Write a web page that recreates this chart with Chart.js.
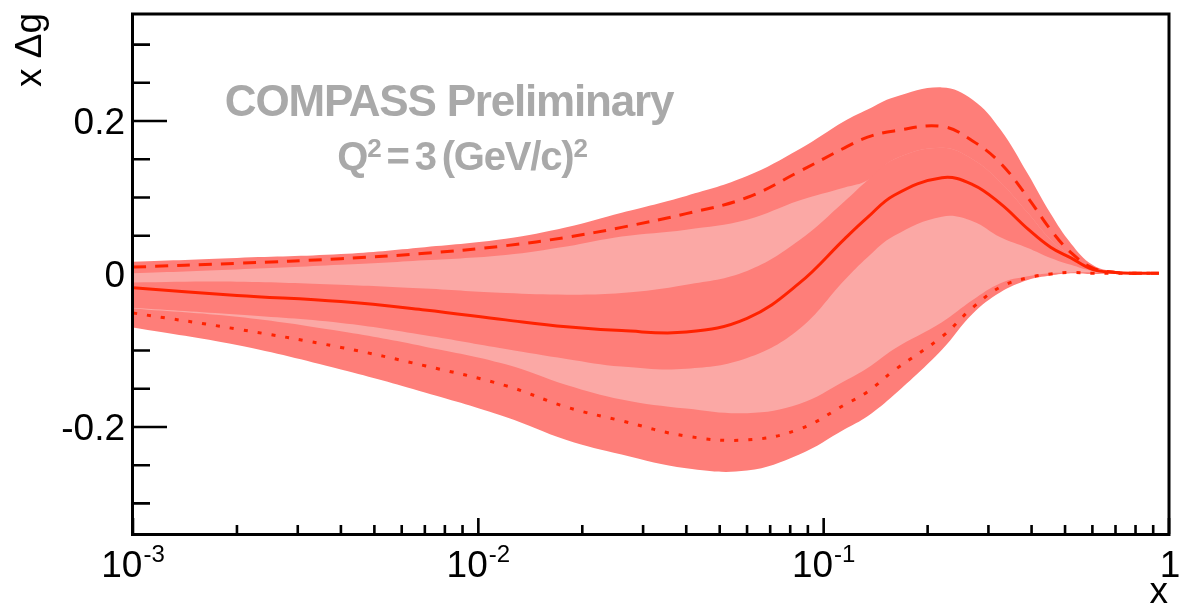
<!DOCTYPE html>
<html>
<head>
<meta charset="utf-8">
<script src="https://cdn.jsdelivr.net/npm/chart.js@4/dist/chart.umd.min.js"></script>
<style>
html,body{margin:0;padding:0;background:#ffffff;}
#c{display:block;}
</style>
</head>
<body>
<canvas id="c" width="1184" height="607"></canvas>
<script>
// ---- data ----
const xValues      = [0.001, 0.002, 0.004, 0.007, 0.012, 0.018, 0.026, 0.04, 0.06, 0.085, 0.115, 0.134, 0.16, 0.22, 0.27, 0.325, 0.39, 0.454, 0.52, 0.6, 0.7, 0.8, 0.935];
const outerUpper   = [0.016, 0.021, 0.026, 0.035, 0.046, 0.061, 0.080, 0.102, 0.128, 0.163, 0.200, 0.215, 0.231, 0.244, 0.228, 0.189, 0.131, 0.079, 0.040, 0.012, 0.003, 0.001, 0.001];
const upperCurve   = [0.009, 0.014, 0.020, 0.027, 0.037, 0.048, 0.061, 0.079, 0.100, 0.134, 0.165, 0.179, 0.187, 0.193, 0.174, 0.145, 0.100, 0.058, 0.028, 0.008, 0.002, 0.001, 0.001];
const lightUpper   = [0.001, 0.006, 0.012, 0.018, 0.025, 0.036, 0.049, 0.058, 0.071, 0.096, 0.113, 0.1225, 0.150, 0.165, 0.150, 0.120, 0.080, 0.045, 0.024, 0.007, 0.002, 0.001, 0.001];
const centralUpper = [-0.011, -0.010, -0.014, -0.019, -0.025, -0.027, -0.025, -0.014, 0.004, 0.044, 0.095, 0.1225, 0.150, 0.165, 0.150, 0.120, 0.080, 0.045, 0.024, 0.007, 0.002, 0.001, 0.001];
const centralCurve = [-0.018, -0.028, -0.036, -0.047, -0.060, -0.069, -0.074, -0.076, -0.058, -0.012, 0.046, 0.074, 0.103, 0.126, 0.117, 0.092, 0.059, 0.035, 0.021, 0.006, 0.002, 0.001, 0.001];
const centralLower = [-0.044, -0.053, -0.064, -0.080, -0.098, -0.111, -0.121, -0.124, -0.110, -0.072, -0.008, 0.022, 0.050, 0.075, 0.069, 0.048, 0.034, 0.021, 0.012, 0.004, 0.001, 0.001, 0.001];
const lightLower   = [-0.045, -0.056, -0.075, -0.095, -0.118, -0.145, -0.164, -0.176, -0.182, -0.170, -0.140, -0.123, -0.098, -0.063, -0.034, -0.012, -0.003, 0.001, 0.002, 0.002, 0.001, 0.001, 0.001];
const lowerCurve   = [-0.051, -0.072, -0.096, -0.120, -0.146, -0.174, -0.192, -0.212, -0.217, -0.203, -0.171, -0.154, -0.126, -0.082, -0.044, -0.017, -0.005, 0.000, 0.002, 0.001, 0.001, 0.001, 0.001];
const outerLower   = [-0.070, -0.093, -0.125, -0.155, -0.187, -0.217, -0.236, -0.254, -0.257, -0.236, -0.203, -0.186, -0.158, -0.099, -0.052, -0.024, -0.008, -0.002, 0.001, 0.000, 0.001, 0.001, 0.001];

// ---- axes / labels ----
const yMajorTicks  = [-0.2, 0, 0.2];
const yTickLabels  = ['-0.2', '0', '0.2'];
const yMinorTicks  = [-0.3, -0.25, -0.15, -0.1, -0.05, 0.05, 0.1, 0.15, 0.25, 0.3];
const xMajorTicks  = [0.001, 0.01, 0.1, 1];
const xTickBase    = ['10', '10', '10', '1'];
const xTickExp     = ['-3', '-2', '-1', ''];
const xMinorMult   = [2, 3, 4, 5, 6, 7, 8, 9];
const xAxisTitle   = 'x';
const yAxisTitle   = 'x \u0394g';
const titleLine1   = 'COMPASS Preliminary';
// pieces of the second title line: [text, superscript?]; spaces rendered as narrow gaps
const titleLine2   = [['Q', false], ['2', true], [' ', false], ['=', false], [' ', false], ['3', false], [' ', false], ['(GeV/c)', false], ['2', true]];

const DARK  = 'rgb(254,126,121)';
const LIGHT = 'rgb(251,168,165)';
const LINE  = 'rgb(255,34,0)';
const FONT  = '"Liberation Sans", Arial, Helvetica, sans-serif';

const pts = ys => xValues.map((x, i) => ({x: x, y: ys[i]}));
const base = {pointRadius: 0, pointHoverRadius: 0, tension: 0.4};
const band = (data, fill, color) => Object.assign({}, base, {data: pts(data), fill: fill, backgroundColor: color, borderColor: 'rgba(0,0,0,0)', borderWidth: 0});

const axisPlugin = {
  id: 'rootAxes',
  beforeDatasetsDraw(chart) {
    const {ctx, chartArea: a, scales: {x, y}} = chart;
    ctx.save();
    ctx.strokeStyle = '#000';
    ctx.lineWidth = 2.6;
    ctx.beginPath();
    yMinorTicks.forEach(v => { const p = y.getPixelForValue(v); ctx.moveTo(a.left, p); ctx.lineTo(a.left + 17, p); });
    yMajorTicks.forEach(v => { const p = y.getPixelForValue(v); ctx.moveTo(a.left, p); ctx.lineTo(a.left + 34, p); });
    xMajorTicks.forEach(v => { const p = x.getPixelForValue(v); ctx.moveTo(p, a.bottom); ctx.lineTo(p, a.bottom - 16); });
    xMajorTicks.slice(0, -1).forEach(d => xMinorMult.forEach(m => {
      const p = x.getPixelForValue(d * m); ctx.moveTo(p, a.bottom); ctx.lineTo(p, a.bottom - 9);
    }));
    ctx.stroke();
    ctx.restore();
  },
  afterDatasetsDraw(chart) {
    const {ctx, chartArea: a} = chart;
    ctx.save();
    ctx.strokeStyle = '#000';
    ctx.lineWidth = 3;
    ctx.strokeRect(a.left - 0.5, a.top, a.right - a.left + 0.5, a.bottom - a.top + 0.5);
    ctx.restore();
  },
  afterDraw(chart) {
    const {ctx, chartArea: a, scales: {x, y}} = chart;
    ctx.save();
    ctx.fillStyle = '#000';
    ctx.font = '37px ' + FONT;
    ctx.textAlign = 'right';
    ctx.textBaseline = 'middle';
    yMajorTicks.forEach((v, i) => ctx.fillText(yTickLabels[i], a.left - 8, y.getPixelForValue(v) + 3));
    ctx.textAlign = 'left';
    ctx.textBaseline = 'alphabetic';
    xMajorTicks.forEach((v, i) => {
      ctx.font = '37px ' + FONT;
      const wb = ctx.measureText(xTickBase[i]).width;
      ctx.font = '24px ' + FONT;
      const we = xTickExp[i] ? ctx.measureText(xTickExp[i]).width + 1 : 0;
      const p = x.getPixelForValue(v);
      const s = p - (wb + we) / 2 + (xTickExp[i] ? 0 : 1);
      ctx.font = '37px ' + FONT;
      ctx.fillText(xTickBase[i], s, 577);
      if (xTickExp[i]) { ctx.font = '24px ' + FONT; ctx.fillText(xTickExp[i], s + wb + 1, 562); }
    });
    ctx.font = '37px ' + FONT;
    ctx.textAlign = 'right';
    ctx.fillText(xAxisTitle, a.right - 1, 603);
    ctx.translate(41, 13);
    ctx.rotate(-Math.PI / 2);
    ctx.fillText(yAxisTitle, 0, 0);
    ctx.restore();

    // title block
    ctx.save();
    ctx.fillStyle = '#a9a9a9';
    ctx.textBaseline = 'alphabetic';
    ctx.textAlign = 'center';
    ctx.font = 'bold 44px ' + FONT;
    ctx.letterSpacing = '-1.2px';
    ctx.fillText(titleLine1, 449, 116);
    ctx.textAlign = 'left';
    ctx.letterSpacing = '-1.2px';
    const fontFor = sup => sup ? 'bold 26px ' + FONT : 'bold 40px ' + FONT;
    const widthOf = ([t, sup]) => { if (t === ' ') return 6; ctx.font = fontFor(sup); return ctx.measureText(t).width; };
    const total = titleLine2.reduce((s, p) => s + widthOf(p), 0);
    let cx = 462 - total / 2;
    titleLine2.forEach(p => {
      const w = widthOf(p);
      if (p[0] !== ' ') { ctx.font = fontFor(p[1]); ctx.fillText(p[0], cx, p[1] ? 157 : 170); }
      cx += w;
    });
    ctx.restore();
  }
};

new Chart(document.getElementById('c'), {
  type: 'line',
  data: {
    datasets: [
      Object.assign({}, base, {label: 'central', data: pts(centralCurve), borderColor: LINE, borderWidth: 3, fill: false}),
      Object.assign({}, base, {label: 'upper', data: pts(upperCurve), borderColor: LINE, borderWidth: 3, borderDash: [13, 9], fill: false}),
      Object.assign({}, base, {label: 'lower', data: pts(lowerCurve), borderColor: LINE, borderWidth: 3, borderDash: [4, 10], fill: false}),
      band(centralUpper, '+1', DARK),
      band(centralLower, false, DARK),
      band(lightUpper, '+1', LIGHT),
      band(lightLower, false, LIGHT),
      band(outerUpper, '+1', DARK),
      band(outerLower, false, DARK)
    ]
  },
  options: {
    responsive: false,
    animation: false,
    devicePixelRatio: 1,
    layout: {padding: {left: 133, right: 15, top: 14, bottom: 73}},
    plugins: {legend: {display: false}, tooltip: {enabled: false}},
    scales: {
      x: {type: 'logarithmic', min: 0.001, max: 1, display: false},
      y: {type: 'linear', min: -0.34, max: 0.34, display: false}
    }
  },
  plugins: [axisPlugin]
});
</script>
</body>
</html>
